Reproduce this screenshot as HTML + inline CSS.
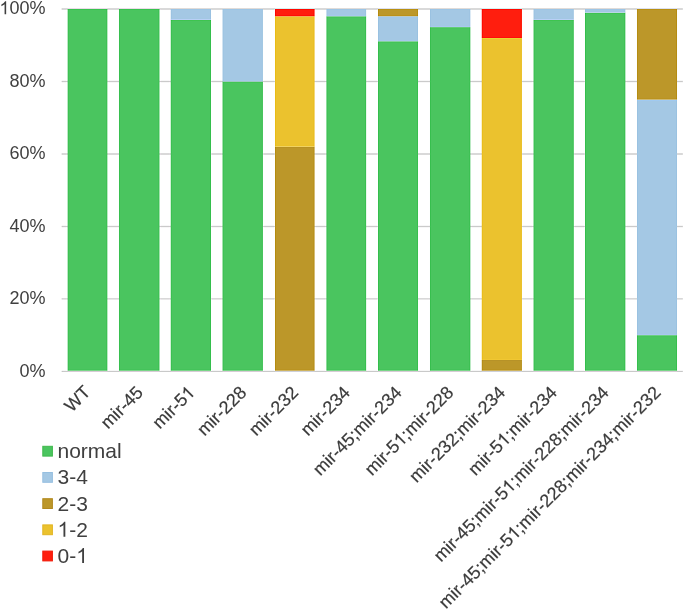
<!DOCTYPE html>
<html><head><meta charset="utf-8"><style>
html,body{margin:0;padding:0;background:#fff;width:685px;height:609px;overflow:hidden}
svg{display:block;will-change:transform;font-family:"Liberation Sans",sans-serif}
.h{fill-opacity:0;stroke-opacity:0}
</style></head><body>
<svg width="685" height="609" viewBox="0 0 685 609">
<rect width="685" height="609" fill="#fff"/>
<line x1="61.6" y1="371.4" x2="682.8" y2="371.4" stroke="#d2d2d2" stroke-width="1.4"/>
<line x1="61.6" y1="298.91999999999996" x2="682.8" y2="298.91999999999996" stroke="#d2d2d2" stroke-width="1.4"/>
<line x1="61.6" y1="226.43999999999997" x2="682.8" y2="226.43999999999997" stroke="#d2d2d2" stroke-width="1.4"/>
<line x1="61.6" y1="153.95999999999998" x2="682.8" y2="153.95999999999998" stroke="#d2d2d2" stroke-width="1.4"/>
<line x1="61.6" y1="81.47999999999996" x2="682.8" y2="81.47999999999996" stroke="#d2d2d2" stroke-width="1.4"/>
<line x1="61.6" y1="9.0" x2="682.8" y2="9.0" stroke="#d2d2d2" stroke-width="1.4"/>
<defs><filter id="sh" x="0" y="0" width="685" height="609" filterUnits="userSpaceOnUse" color-interpolation-filters="sRGB"><feConvolveMatrix order="3" preserveAlpha="true" edgeMode="duplicate" kernelMatrix="0 -0.12 0 -0.12 1.48 -0.12 0 -0.12 0"/></filter></defs>
<g filter="url(#sh)"><rect x="40" y="0" width="645" height="380" fill="#fff"/>
<line x1="61.6" y1="371.4" x2="682.8" y2="371.4" stroke="#d2d2d2" stroke-width="1.4"/>
<line x1="61.6" y1="298.91999999999996" x2="682.8" y2="298.91999999999996" stroke="#d2d2d2" stroke-width="1.4"/>
<line x1="61.6" y1="226.43999999999997" x2="682.8" y2="226.43999999999997" stroke="#d2d2d2" stroke-width="1.4"/>
<line x1="61.6" y1="153.95999999999998" x2="682.8" y2="153.95999999999998" stroke="#d2d2d2" stroke-width="1.4"/>
<line x1="61.6" y1="81.47999999999996" x2="682.8" y2="81.47999999999996" stroke="#d2d2d2" stroke-width="1.4"/>
<line x1="61.6" y1="9.0" x2="682.8" y2="9.0" stroke="#d2d2d2" stroke-width="1.4"/>
<rect x="67.60" y="9.00" width="39.80" height="361.70" fill="#4ac55f"/>
<rect x="118.90" y="9.00" width="40.60" height="361.70" fill="#4ac55f"/>
<rect x="170.70" y="19.87" width="40.30" height="350.83" fill="#4ac55f"/>
<rect x="170.70" y="9.00" width="40.30" height="10.87" fill="#a4c8e4"/>
<rect x="222.50" y="81.48" width="40.40" height="289.22" fill="#4ac55f"/>
<rect x="222.50" y="9.00" width="40.40" height="72.48" fill="#a4c8e4"/>
<rect x="275.00" y="146.71" width="39.60" height="223.99" fill="#bc9729"/>
<rect x="275.00" y="16.25" width="39.60" height="130.46" fill="#ebc22e"/>
<rect x="275.00" y="9.00" width="39.60" height="7.25" fill="#ff1e0e"/>
<rect x="326.40" y="16.25" width="39.80" height="354.45" fill="#4ac55f"/>
<rect x="326.40" y="9.00" width="39.80" height="7.25" fill="#a4c8e4"/>
<rect x="378.00" y="41.25" width="40.10" height="329.45" fill="#4ac55f"/>
<rect x="378.00" y="16.25" width="40.10" height="25.01" fill="#a4c8e4"/>
<rect x="378.00" y="9.00" width="40.10" height="7.25" fill="#bc9729"/>
<rect x="429.90" y="27.12" width="40.50" height="343.58" fill="#4ac55f"/>
<rect x="429.90" y="9.00" width="40.50" height="18.12" fill="#a4c8e4"/>
<rect x="481.70" y="359.98" width="40.20" height="10.72" fill="#bc9729"/>
<rect x="481.70" y="37.99" width="40.20" height="321.99" fill="#ebc22e"/>
<rect x="481.70" y="9.00" width="40.20" height="28.99" fill="#ff1e0e"/>
<rect x="533.50" y="19.87" width="40.30" height="350.83" fill="#4ac55f"/>
<rect x="533.50" y="9.00" width="40.30" height="10.87" fill="#a4c8e4"/>
<rect x="585.00" y="12.62" width="40.40" height="358.08" fill="#4ac55f"/>
<rect x="585.00" y="9.00" width="40.40" height="3.62" fill="#a4c8e4"/>
<rect x="636.90" y="335.16" width="40.20" height="35.54" fill="#4ac55f"/>
<rect x="636.90" y="99.60" width="40.20" height="235.56" fill="#a4c8e4"/>
<rect x="636.90" y="9.00" width="40.20" height="90.60" fill="#bc9729"/>
</g>
<text x="45.5" y="376.70" text-anchor="end" font-size="18" fill="#404040">0%</text>
<text x="45.5" y="304.22" text-anchor="end" font-size="18" fill="#404040">20%</text>
<text x="45.5" y="231.74" text-anchor="end" font-size="18" fill="#404040">40%</text>
<text x="45.5" y="159.26" text-anchor="end" font-size="18" fill="#404040">60%</text>
<text x="45.5" y="86.78" text-anchor="end" font-size="18" fill="#404040">80%</text>
<text x="45.5" y="14.30" text-anchor="end" font-size="18" fill="#404040"><tspan class="h">1</tspan>00%</text>
<text transform="translate(91.58,393.10) rotate(-45)" text-anchor="end" font-size="18" fill="#3a3a3a" stroke="#3a3a3a" stroke-width="0.2">WT</text>
<text transform="translate(144.05,393.70) rotate(-45)" text-anchor="end" font-size="18" fill="#3a3a3a" stroke="#3a3a3a" stroke-width="0.2">mir-45</text>
<text transform="translate(195.82,393.70) rotate(-45)" text-anchor="end" font-size="18" fill="#3a3a3a" stroke="#3a3a3a" stroke-width="0.2">mir-5<tspan class="h">1</tspan></text>
<text transform="translate(247.58,393.70) rotate(-45)" text-anchor="end" font-size="18" fill="#3a3a3a" stroke="#3a3a3a" stroke-width="0.2">mir-228</text>
<text transform="translate(299.35,393.70) rotate(-45)" text-anchor="end" font-size="18" fill="#3a3a3a" stroke="#3a3a3a" stroke-width="0.2">mir-232</text>
<text transform="translate(351.12,393.70) rotate(-45)" text-anchor="end" font-size="18" fill="#3a3a3a" stroke="#3a3a3a" stroke-width="0.2">mir-234</text>
<text transform="translate(402.88,393.70) rotate(-45)" text-anchor="end" font-size="18" fill="#3a3a3a" stroke="#3a3a3a" stroke-width="0.2">mir-45;mir-234</text>
<text transform="translate(454.65,393.70) rotate(-45)" text-anchor="end" font-size="18" fill="#3a3a3a" stroke="#3a3a3a" stroke-width="0.2">mir-5<tspan class="h">1</tspan>;mir-228</text>
<text transform="translate(506.42,393.70) rotate(-45)" text-anchor="end" font-size="18" fill="#3a3a3a" stroke="#3a3a3a" stroke-width="0.2">mir-232;mir-234</text>
<text transform="translate(558.18,393.70) rotate(-45)" text-anchor="end" font-size="18" fill="#3a3a3a" stroke="#3a3a3a" stroke-width="0.2">mir-5<tspan class="h">1</tspan>;mir-234</text>
<text transform="translate(609.95,393.70) rotate(-45)" text-anchor="end" font-size="18" fill="#3a3a3a" stroke="#3a3a3a" stroke-width="0.2">mir-45;mir-5<tspan class="h">1</tspan>;mir-228;mir-234</text>
<text transform="translate(661.72,393.70) rotate(-45)" text-anchor="end" font-size="18" fill="#3a3a3a" stroke="#3a3a3a" stroke-width="0.2">mir-45;mir-5<tspan class="h">1</tspan>;mir-228;mir-234;mir-232</text>
<rect x="42.8" y="446.30" width="9.6" height="9.8" fill="#4ac55f" stroke="#3fb84c" stroke-width="1"/>
<text x="57.5" y="458.20" font-size="21" fill="#404040">normal</text>
<rect x="42.8" y="472.50" width="9.6" height="9.8" fill="#a4c8e4" stroke="#96bfe0" stroke-width="1"/>
<text x="57.5" y="484.40" font-size="21" fill="#404040">3-4</text>
<rect x="42.8" y="498.70" width="9.6" height="9.8" fill="#bc9729" stroke="#b2891f" stroke-width="1"/>
<text x="57.5" y="510.60" font-size="21" fill="#404040">2-3</text>
<rect x="42.8" y="524.90" width="9.6" height="9.8" fill="#ebc22e" stroke="#e2b422" stroke-width="1"/>
<text x="57.5" y="536.80" font-size="21" fill="#404040"><tspan class="h">1</tspan>-2</text>
<rect x="42.8" y="551.10" width="9.6" height="9.8" fill="#ff1e0e" stroke="#f01a08" stroke-width="1"/>
<text x="57.5" y="563.00" font-size="21" fill="#404040">0-<tspan class="h">1</tspan></text>
<path transform=" translate(-0.547,14.300) scale(0.008789,-0.008789)" d="M763 0L583 0L583 1147Q518 1085 412 1023Q306 961 221 930L221 1104Q372 1175 485 1276Q598 1377 645 1472L763 1472Z" fill="#404040"/>
<path transform="translate(195.82,393.70) rotate(-45) translate(-10.016,0.000) scale(0.008789,-0.008789)" d="M763 0L583 0L583 1147Q518 1085 412 1023Q306 961 221 930L221 1104Q372 1175 485 1276Q598 1377 645 1472L763 1472Z" fill="#3a3a3a" stroke="#3a3a3a" stroke-width="22.755555555555556"/>
<path transform="translate(454.65,393.70) rotate(-45) translate(-76.031,0.000) scale(0.008789,-0.008789)" d="M763 0L583 0L583 1147Q518 1085 412 1023Q306 961 221 930L221 1104Q372 1175 485 1276Q598 1377 645 1472L763 1472Z" fill="#3a3a3a" stroke="#3a3a3a" stroke-width="22.755555555555556"/>
<path transform="translate(558.18,393.70) rotate(-45) translate(-76.031,0.000) scale(0.008789,-0.008789)" d="M763 0L583 0L583 1147Q518 1085 412 1023Q306 961 221 930L221 1104Q372 1175 485 1276Q598 1377 645 1472L763 1472Z" fill="#3a3a3a" stroke="#3a3a3a" stroke-width="22.755555555555556"/>
<path transform="translate(609.95,393.70) rotate(-45) translate(-142.047,0.000) scale(0.008789,-0.008789)" d="M763 0L583 0L583 1147Q518 1085 412 1023Q306 961 221 930L221 1104Q372 1175 485 1276Q598 1377 645 1472L763 1472Z" fill="#3a3a3a" stroke="#3a3a3a" stroke-width="22.755555555555556"/>
<path transform="translate(661.72,393.70) rotate(-45) translate(-208.062,0.000) scale(0.008789,-0.008789)" d="M763 0L583 0L583 1147Q518 1085 412 1023Q306 961 221 930L221 1104Q372 1175 485 1276Q598 1377 645 1472L763 1472Z" fill="#3a3a3a" stroke="#3a3a3a" stroke-width="22.755555555555556"/>
<path transform=" translate(57.500,536.800) scale(0.010254,-0.010254)" d="M763 0L583 0L583 1147Q518 1085 412 1023Q306 961 221 930L221 1104Q372 1175 485 1276Q598 1377 645 1472L763 1472Z" fill="#404040"/>
<path transform=" translate(76.188,563.000) scale(0.010254,-0.010254)" d="M763 0L583 0L583 1147Q518 1085 412 1023Q306 961 221 930L221 1104Q372 1175 485 1276Q598 1377 645 1472L763 1472Z" fill="#404040"/>
</svg>
</body></html>
